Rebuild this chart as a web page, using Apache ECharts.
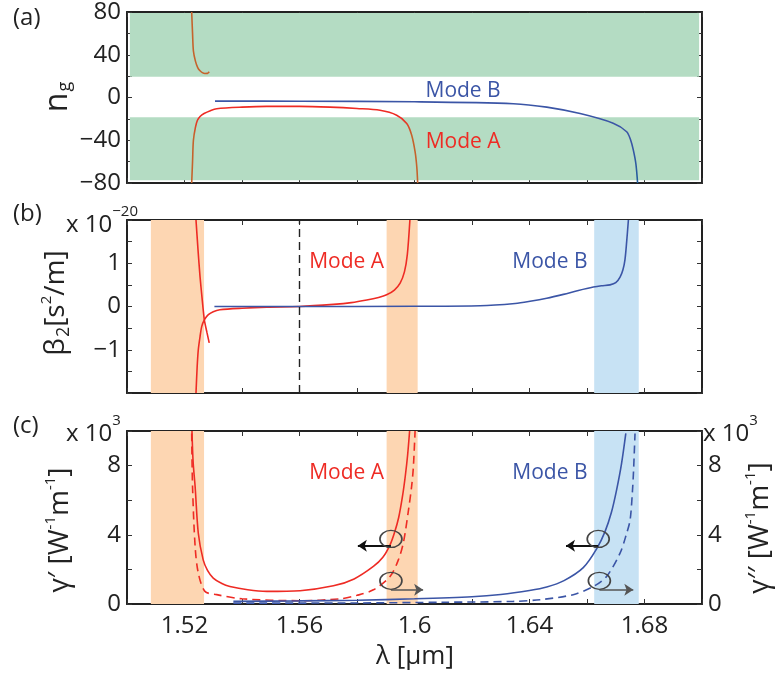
<!DOCTYPE html>
<html><head><meta charset="utf-8">
<script src="https://cdn.jsdelivr.net/npm/echarts/dist/echarts.min.js"></script>
<style>html,body{margin:0;padding:0;background:#fff}#c{width:781px;height:675px}</style>
</head><body><div id="c"></div>
<script>
// ---------- x-axis ticks ----------
const xTicks = [1.52, 1.56, 1.6, 1.64, 1.68];

// ---------- panel (a): group index n_g ----------
const aUpperX = [1.5225, 1.5228, 1.5231, 1.5238, 1.5246, 1.5254, 1.5262, 1.5271, 1.5280, 1.5286];
const aUpperY = [80, 60, 43.5, 34, 28, 25, 23.3, 22.5, 22.6, 24];
const aModeAX = [1.5225, 1.5228, 1.5231, 1.5238, 1.5245, 1.5255, 1.5268, 1.5290, 1.5312, 1.5400, 1.5486, 1.5600, 1.5706, 1.5800, 1.5880, 1.5938, 1.5973, 1.5990, 1.6002, 1.6008, 1.6011];
const aModeAY = [-80, -60, -40, -28, -21.3, -17.5, -15, -12.3, -10.5, -9, -8.3, -8.3, -9, -10.3, -12, -16.6, -24.3, -35, -50.6, -65, -80];
const aModeBX = [1.5306, 1.56, 1.60, 1.6344, 1.6460, 1.6576, 1.6691, 1.6738, 1.6752, 1.6761, 1.6770, 1.6776];
const aModeBY = [-3.4, -3.5, -4, -5.8, -9, -15, -24, -32, -40, -49, -62, -80];
const aBands = [[19.5, 79], [-77.5, -18.5]];

// ---------- panel (b): beta2 (x 1e-20 s^2/m) ----------
const bUpperX = [1.5240, 1.5247, 1.5254, 1.5261, 1.5269, 1.5278, 1.5286];
const bUpperY = [2.0, 1.31, 0.69, 0.2, -0.31, -0.6, -0.84];
const bModeAX = [1.5240, 1.5244, 1.5248, 1.5254, 1.5260, 1.5270, 1.5283, 1.5300, 1.5323, 1.5400, 1.5486, 1.5600, 1.5718, 1.5780, 1.5834, 1.5875, 1.5903, 1.5930, 1.5950, 1.5965, 1.5975, 1.5984];
const bModeAY = [-2.0, -1.4, -1.0, -0.7, -0.46, -0.3, -0.19, -0.12, -0.077, -0.04, -0.015, 0, 0.05, 0.09, 0.15, 0.21, 0.27, 0.38, 0.54, 0.8, 1.2, 2.0];
const bModeBX = [1.5304, 1.56, 1.60, 1.6228, 1.6350, 1.6402, 1.6460, 1.6518, 1.6570, 1.6622, 1.6650, 1.6680, 1.6700, 1.6715, 1.6725, 1.6732, 1.6738, 1.6744];
const bModeBY = [0, 0, 0.005, 0.016, 0.07, 0.12, 0.19, 0.28, 0.37, 0.45, 0.48, 0.5, 0.55, 0.68, 0.85, 1.08, 1.5, 2.0];
const zeroDispersion = 1.56;

// ---------- panel (c): gamma' (solid) and gamma'' (dashed), x 1e3 W^-1 m^-1 ----------
const cARealX = [1.5226, 1.5230, 1.5237, 1.5248, 1.5265, 1.5280, 1.5300, 1.5330, 1.5358, 1.5420, 1.5486, 1.5602, 1.5718, 1.5790, 1.5857, 1.5890, 1.5915, 1.5930, 1.5945, 1.5958, 1.5968, 1.5976, 1.5983];
const cARealY = [10, 8.2, 6.78, 4.09, 2.55, 1.95, 1.5, 1.18, 1.01, 0.82, 0.73, 0.77, 1.05, 1.45, 2.17, 2.7, 3.42, 4.1, 5.0, 6.2, 7.4, 8.6, 10];
const cAImagX = [1.5225, 1.5228, 1.5237, 1.5248, 1.5271, 1.5312, 1.5400, 1.5602, 1.5741, 1.5800, 1.5857, 1.5915, 1.5945, 1.5962, 1.5978, 1.5990, 1.5996, 1.6002];
const cAImagY = [9.86, 6.78, 3.32, 1.79, 0.73, 0.54, 0.3, 0.19, 0.3, 0.5, 0.82, 1.59, 2.6, 3.6, 5.3, 6.8, 7.9, 10];
const cBRealX = [1.5370, 1.5600, 1.5800, 1.6000, 1.6200, 1.6300, 1.6400, 1.6460, 1.6520, 1.6587, 1.6634, 1.6663, 1.6685, 1.6703, 1.6720, 1.6735];
const cBRealY = [0.15, 0.18, 0.22, 0.3, 0.42, 0.55, 0.78, 0.98, 1.35, 2.1, 3.2, 4.2, 5.3, 6.6, 8.1, 9.86];
const cBImagX = [1.5370, 1.5800, 1.6100, 1.6344, 1.6437, 1.6552, 1.6622, 1.6668, 1.6715, 1.6738, 1.6750, 1.6758, 1.6762, 1.6767];
const cBImagY = [0.05, 0.06, 0.1, 0.15, 0.25, 0.54, 1.01, 1.59, 2.94, 4.09, 4.86, 6.5, 7.74, 9.86];

// ---------- shaded wavelength bands ----------
const orangeBands = [[1.5083, 1.5268], [1.5903, 1.6011]];
const blueBand = [1.6625, 1.6780];

// ---------- annotation anchors (data coords in panel c) ----------
const circleCenters = [[1.5918, 3.76], [1.5918, 1.34], [1.6639, 3.76], [1.6643, 1.34]];
const arrowsLeft = [[1.5918, 1.5803, 3.36], [1.6639, 1.6527, 3.36]];
const arrowsRight = [[1.5918, 1.6030, 0.82], [1.6643, 1.6761, 0.82]];

// ---------- label anchors ----------
const labelsA = [['Mode B', 1.6169, 6.5, 'blue'], ['Mode A', 1.6169, -41.4, 'red']];
const labelsB = [['Mode A', 1.5764, 1.04, 'red'], ['Mode B', 1.6471, 1.04, 'blue']];
const labelsC = [['Mode A', 1.5764, 7.55, 'red'], ['Mode B', 1.6471, 7.57, 'blue']];

const zip = (xs, ys) => xs.map((x, i) => [x, ys[i]]);

const RED = '#ee2b24', BLUE = '#3b55a6', BROWN = '#c5632c', INK = '#222';
const FONT = 'Open Sans';
const colorOf = c => c === 'red' ? RED : BLUE;

const chart = echarts.init(document.getElementById('c'), null, {renderer: 'canvas'});

const grids = [
  {left: 127, width: 575, top: 10, height: 173},
  {left: 127, width: 575, top: 220, height: 173},
  {left: 127, width: 575, top: 431, height: 173}
];

function xAx(grid, pos, showLabels) {
  return {
    type: 'value', gridIndex: grid, position: pos, min: 1.5, max: 1.7, interval: 0.02,
    axisLine: {show: true, onZero: false, lineStyle: {color: INK, width: 2}},
    axisTick: {show: true, inside: true, length: 5, lineStyle: {color: '#333', width: 1}},
    splitLine: {show: false},
    axisLabel: {
      show: showLabels, color: INK, fontSize: 24, fontFamily: FONT, margin: 10,
      formatter: v => {
        const r = Math.round(v * 100);
        if (r % 4 !== 0) return '';
        const s = parseFloat((r / 100).toFixed(2));
        return xTicks.indexOf(s) >= 0 ? String(s) : '';
      }
    }
  };
}
function yAx(grid, pos, min, max, interval, fmt) {
  return {
    type: 'value', gridIndex: grid, position: pos, min, max, interval,
    axisLine: {show: true, onZero: false, lineStyle: {color: INK, width: 2}},
    axisTick: {show: true, inside: true, length: 5, lineStyle: {color: '#333', width: 1}},
    splitLine: {show: false},
    axisLabel: {show: !!fmt, color: INK, fontSize: 24, fontFamily: FONT, margin: 6, formatter: fmt || (() => '')}
  };
}
const minus = s => String(s).replace('-', '\u2212');
const fmtA = v => (Math.round(v) % 40 === 0) ? minus(Math.round(v)) : '';
const fmtB = v => (Math.abs(v - Math.round(v)) < 1e-6 && Math.abs(v) < 1.5) ? minus(Math.round(v)) : '';
const fmtC = v => ([0, 4, 8].indexOf(Math.round(v)) >= 0 && Math.abs(v - Math.round(v)) < 1e-6) ? String(Math.round(v)) : '';

function line(xi, yi, data, color, opts) {
  return Object.assign({
    type: 'line', xAxisIndex: xi, yAxisIndex: yi, data, showSymbol: false, symbol: 'none',
    smooth: 0.3, lineStyle: {color, width: 1.6}, itemStyle: {color}, silent: true, z: 3, animation: false
  }, opts || {});
}
function labelPoints(list) {
  return {
    silent: true, symbol: 'circle', symbolSize: 0,
    data: list.map(l => ({coord: [l[1], l[2]], value: l[0],
      label: {show: true, position: 'inside', formatter: l[0], color: colorOf(l[3]), fontSize: 21, fontFamily: FONT}}))
  };
}

const NAME_RICH = {
  g: {fontSize: 28, fontFamily: FONT, fill: INK, lineHeight: 34},
  gb: {fontSize: 32, fontFamily: FONT, fill: INK, lineHeight: 36},
  sub: {fontSize: 18, fontFamily: FONT, fill: INK, padding: [16, 0, 0, 1], verticalAlign: 'top', lineHeight: 20},
  sup: {fontSize: 15, fontFamily: FONT, fill: INK, padding: [0, 0, 14, 0], verticalAlign: 'top', lineHeight: 17}
};
function yName(text, x, y) {
  return {type: 'text', x, y, rotation: Math.PI / 2, z: 10,
    style: {text, rich: NAME_RICH, align: 'center', verticalAlign: 'middle', textAlign: 'center', textVerticalAlign: 'middle',
      fontSize: 28, fontFamily: FONT, fill: INK}};
}
function sciLabel(x, y, exp) {
  return {type: 'text', left: x, top: y, style: {text: '{m|x 10}{s|' + exp + '}', rich: {
    m: {fontSize: 24, fontFamily: FONT, fill: INK, padding: [9, 0, 0, 0], verticalAlign: 'top'},
    s: {fontSize: 15, fontFamily: FONT, fill: INK, verticalAlign: 'top'}}}};
}

const option = {
  animation: false,
  backgroundColor: '#fff',
  grid: grids,
  xAxis: [xAx(0, 'bottom', false), xAx(0, 'top', false), xAx(1, 'bottom', false), xAx(1, 'top', false), xAx(2, 'bottom', true), xAx(2, 'top', false)],
  yAxis: [
    yAx(0, 'left', -80, 80, 20, fmtA),
    yAx(0, 'right', -80, 80, 20, null),
    yAx(1, 'left', -2, 2, 0.5, fmtB),
    yAx(1, 'right', -2, 2, 0.5, null),
    yAx(2, 'left', 0, 10, 2, fmtC),
    yAx(2, 'right', 0, 10, 2, fmtC)
  ],
  series: [
    // panel (a) bands
    line(0, 0, [], INK, {z: 1, markArea: {silent: true, itemStyle: {color: '#b4dcc3'},
      data: aBands.map(b => [{coord: [1.501, b[1]]}, {coord: [1.699, b[0]]}])}}),
    line(0, 0, zip(aUpperX, aUpperY), BROWN),
    line(0, 0, zip(aModeAX, aModeAY), new echarts.graphic.LinearGradient(0, 0, 0, 1, [
      {offset: 0, color: RED}, {offset: 0.18, color: RED}, {offset: 0.38, color: BROWN}, {offset: 1, color: BROWN}])),
    line(0, 0, zip(aModeBX, aModeBY), new echarts.graphic.LinearGradient(0, 0, 0, 1, [
      {offset: 0, color: BLUE}, {offset: 0.5, color: BLUE}, {offset: 1, color: '#1f5f9b'}]), {markPoint: labelPoints(labelsA)}),

    // panel (b)
    line(2, 2, [], INK, {z: 1,
      markArea: {silent: true, data: [
        ...orangeBands.map(b => [{xAxis: b[0], itemStyle: {color: '#fdd6b2'}}, {xAxis: b[1]}]),
        [{xAxis: blueBand[0], itemStyle: {color: '#c7e2f4'}}, {xAxis: blueBand[1]}]
      ]},
      markLine: {silent: true, symbol: ['none', 'none'], label: {show: false},
        lineStyle: {color: INK, type: [8, 5], width: 1.4}, data: [{xAxis: zeroDispersion}]}}),
    line(2, 2, zip(bUpperX, bUpperY), RED, {smooth: 0.2}),
    line(2, 2, zip(bModeAX, bModeAY), RED),
    line(2, 2, zip(bModeBX, bModeBY), BLUE, {markPoint: labelPoints(labelsB)}),

    // panel (c)
    line(4, 4, [], INK, {z: 1,
      markArea: {silent: true, data: [
        ...orangeBands.map(b => [{xAxis: b[0], itemStyle: {color: '#fdd6b2'}}, {xAxis: b[1]}]),
        [{xAxis: blueBand[0], itemStyle: {color: '#c7e2f4'}}, {xAxis: blueBand[1]}]
      ]}}),
    line(4, 4, zip(cARealX, cARealY), RED),
    line(4, 5, zip(cAImagX, cAImagY), RED, {lineStyle: {color: RED, width: 1.6, type: [8, 5]}}),
    line(4, 4, zip(cBRealX, cBRealY), BLUE, {markPoint: labelPoints(labelsC)}),
    line(4, 5, zip(cBImagX, cBImagY), BLUE, {lineStyle: {color: BLUE, width: 1.6, type: [8, 5]}}),
    // annotations
    line(4, 4, [], INK, {z: 5,
      markPoint: {silent: true, symbol: 'circle', symbolSize: [22, 17],
        itemStyle: {color: 'rgba(0,0,0,0)', borderColor: '#444', borderWidth: 1.5},
        label: {show: false},
        data: circleCenters.map(c => ({coord: c}))},
      markLine: {silent: true, symbol: ['none', 'arrow'], symbolSize: 9, label: {show: false},
        data: [
          ...arrowsLeft.map(a => [{coord: [a[0], a[2]], lineStyle: {color: '#111', width: 1.8, type: 'solid'}}, {coord: [a[1], a[2]]}]),
          ...arrowsRight.map(a => [{coord: [a[0], a[2]], lineStyle: {color: '#555', width: 1.6, type: 'solid'}}, {coord: [a[1], a[2]]}])
        ]}})
  ],
  graphic: [
    {type: 'text', left: 13, top: 6, style: {text: '(a)', fontSize: 24, fontFamily: FONT, fill: INK}},
    {type: 'text', left: 13, top: 202, style: {text: '(b)', fontSize: 24, fontFamily: FONT, fill: INK}},
    {type: 'text', left: 13, top: 414, style: {text: '(c)', fontSize: 24, fontFamily: FONT, fill: INK}},
    sciLabel(66, 204, '\u221220'),
    sciLabel(66, 413, '3'),
    sciLabel(703, 413, '3'),
    yName('{gb|n}{sub|g}', 58, 97),
    yName('{g|β}{sub|2}{g|[s}{sup|2}{g|/m]}', 56, 303),
    yName('{g|γ′ [W}{sup|-1}{g|m}{sup|-1}{g|]}', 60, 530),
    yName('{g|γ′′ [W}{sup|-1}{g|m}{sup|-1}{g|]}', 760, 528),
    {type: 'text', x: 415, y: 657, style: {text: 'λ [μm]', fontSize: 26, fontFamily: FONT, fill: INK,
      align: 'center', verticalAlign: 'middle', textAlign: 'center', textVerticalAlign: 'middle'}}
  ]
};
chart.setOption(option);
</script></body></html>
